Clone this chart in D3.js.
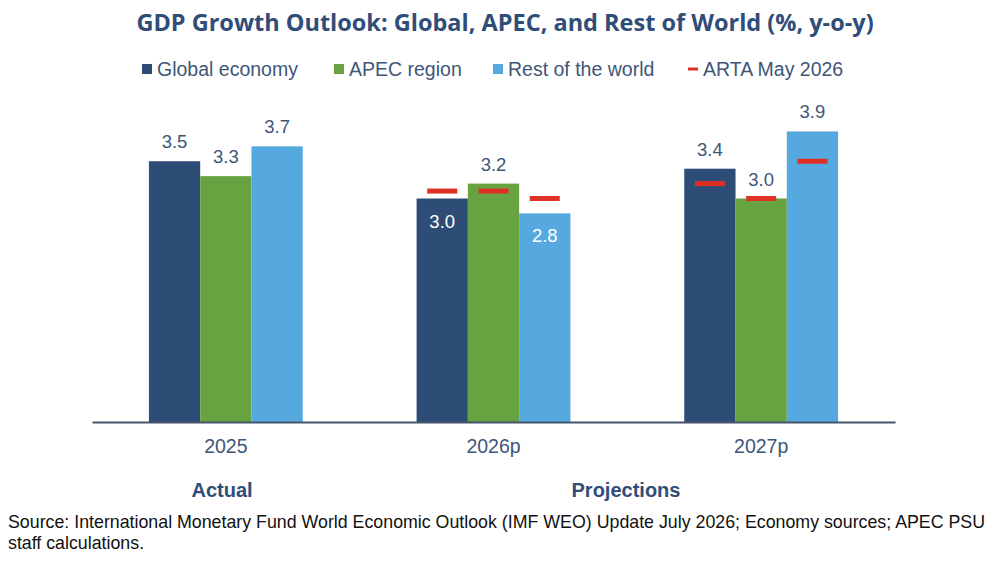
<!DOCTYPE html>
<html>
<head>
<meta charset="utf-8">
<script src="https://cdn.jsdelivr.net/npm/d3@7"></script>
<style>
  html, body { margin: 0; padding: 0; background: #fff; }
  svg { display: block; }
</style>
</head>
<body>
<div id="chart"></div>
<script>
// GDP growth outlook — grouped bars with ARTA markers
const CATEGORIES = ['2025', '2026p', '2027p'];
const SERIES = ['Global economy', 'APEC region', 'Rest of the world'];
const VALUES = {
  'Global economy':    [3.5, 3.0, 3.4],
  'APEC region':       [3.3, 3.2, 3.0],
  'Rest of the world': [3.7, 2.8, 3.9],
};
// ARTA May 2026 markers (none for 2025)
const ARTA = {
  'Global economy':    [null, 3.1, 3.2],
  'APEC region':       [null, 3.1, 3.0],
  'Rest of the world': [null, 3.0, 3.5],
};
// labels drawn inside the bar instead of above it
const INSIDE_LABELS = [['Global economy', '2026p'], ['Rest of the world', '2026p']];
const COLORS = { 'Global economy': '#2E4D76', 'APEC region': '#68A342', 'Rest of the world': '#56A9DF' };
const ARTA_COLOR = '#DF3026';
const TITLE = 'GDP Growth Outlook: Global, APEC, and Rest of World (%, y-o-y)';
const PERIOD_LABELS = [{ text: 'Actual', x: 222 }, { text: 'Projections', x: 626 }];
const SOURCE_LINES = [
  'Source: International Monetary Fund World Economic Outlook (IMF WEO) Update July 2026; Economy sources; APEC PSU',
  'staff calculations.'
];

const W = 1000, H = 562;
const FONT = '"Liberation Sans", Arial, sans-serif';
const TEXT_BLUE = '#3E5678';

const svg = d3.select('#chart').append('svg')
  .attr('width', W).attr('height', H);

svg.append('text')
  .attr('x', 505).attr('y', 31)
  .attr('text-anchor', 'middle')
  .attr('font-family', '"Open Sans", Lato, sans-serif')
  .attr('font-weight', 700)
  .attr('font-size', '23.5px')
  .attr('fill', '#2F4D78')
  .text(TITLE);

// legend
const legendItems = [
  { label: 'Global economy', x: 142, color: COLORS['Global economy'] },
  { label: 'APEC region', x: 334, color: COLORS['APEC region'] },
  { label: 'Rest of the world', x: 493, color: COLORS['Rest of the world'] },
  { label: 'ARTA May 2026', x: 688, color: ARTA_COLOR, dash: true },
];
const legend = svg.append('g').attr('class', 'legend');
legendItems.forEach(item => {
  const g = legend.append('g').attr('transform', `translate(${item.x},69)`);
  if (item.dash) {
    g.append('rect').attr('x', 0).attr('y', -1.5).attr('width', 10).attr('height', 3).attr('fill', item.color);
  } else {
    g.append('rect').attr('x', 0).attr('y', -5).attr('width', 10).attr('height', 10).attr('fill', item.color);
  }
  g.append('text')
    .attr('x', 15).attr('y', 7)
    .attr('font-family', FONT)
    .attr('font-size', '19.5px')
    .attr('fill', TEXT_BLUE)
    .text(item.label);
});

// scales
const x0 = d3.scaleBand().domain(CATEGORIES).range([92, 895]).padding(0);
const x1 = d3.scaleBand().domain(SERIES).range([0, x0.bandwidth()]).paddingInner(0).paddingOuter(1.11);
const y = d3.scaleLinear().domain([0, 4.5]).range([422, 86.75]);

const g = svg.append('g');

CATEGORIES.forEach((cat, ci) => {
  SERIES.forEach(s => {
    const v = VALUES[s][ci];
    const bx = x0(cat) + x1(s);
    const bw = x1.bandwidth();
    g.append('rect')
      .attr('x', bx).attr('y', y(v))
      .attr('width', bw).attr('height', y(0) - y(v))
      .attr('fill', COLORS[s]);

    const inside = INSIDE_LABELS.some(d => d[0] === s && d[1] === cat);
    g.append('text')
      .attr('x', bx + bw / 2)
      .attr('y', inside ? y(v) + 29 : y(v) - 13)
      .attr('text-anchor', 'middle')
      .attr('font-family', FONT)
      .attr('font-size', '18.5px')
      .attr('fill', inside ? '#FFFFFF' : TEXT_BLUE)
      .text(v.toFixed(1));
  });
});

// ARTA markers on top of bars
CATEGORIES.forEach((cat, ci) => {
  SERIES.forEach(s => {
    const a = ARTA[s][ci];
    if (a == null) return;
    const cx = x0(cat) + x1(s) + x1.bandwidth() / 2;
    g.append('rect')
      .attr('x', cx - 15).attr('y', y(a) - 2.5)
      .attr('width', 30).attr('height', 5)
      .attr('fill', ARTA_COLOR);
  });
});

// axis
const xAxis = d3.axisBottom(x0).tickSize(0).tickPadding(17);
const axisG = svg.append('g')
  .attr('transform', `translate(0,${y(0)})`)
  .call(xAxis);
axisG.select('.domain').attr('stroke', '#44546A').attr('stroke-width', 2);
axisG.selectAll('text')
  .attr('font-family', FONT)
  .attr('font-size', '19.5px')
  .attr('fill', TEXT_BLUE);

// period labels
PERIOD_LABELS.forEach(p => {
  svg.append('text')
    .attr('x', p.x).attr('y', 497)
    .attr('text-anchor', 'middle')
    .attr('font-family', FONT)
    .attr('font-weight', 700)
    .attr('font-size', '20px')
    .attr('fill', '#2F4D78')
    .text(p.text);
});

// source
SOURCE_LINES.forEach((line, i) => {
  svg.append('text')
    .attr('x', 8).attr('y', 528 + i * 21)
    .attr('font-family', FONT)
    .attr('font-size', '17.8px')
    .attr('fill', '#111')
    .text(line);
});
</script>
</body>
</html>
